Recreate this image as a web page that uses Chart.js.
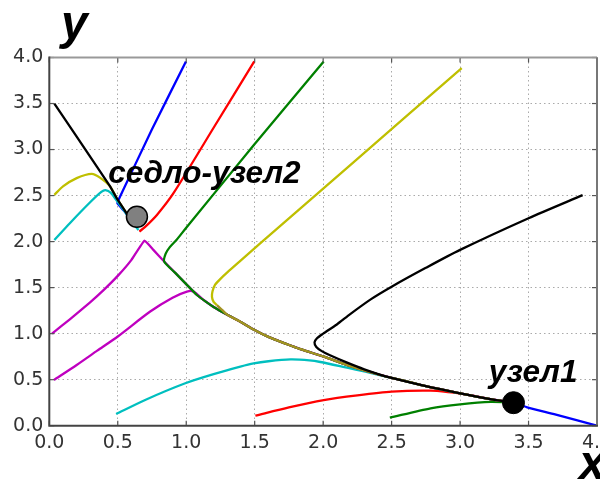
<!DOCTYPE html>
<html>
<head>
<meta charset="utf-8">
<script src="https://cdn.jsdelivr.net/npm/chart.js@4/dist/chart.umd.min.js"></script>
<style>
html,body{margin:0;padding:0;background:#fff;overflow:hidden;}
#wrap{width:600px;height:486px;position:relative;overflow:hidden;}
canvas{display:block;}
</style>
</head>
<body>
<div id="wrap"><canvas id="c" width="609" height="486"></canvas></div>
<script>
// ---- data ----
const xTicks = [0, 0.5, 1, 1.5, 2, 2.5, 3, 3.5, 4];
const yTicks = [0, 0.5, 1, 1.5, 2, 2.5, 3, 3.5, 4];

// common slow manifold from the saddle-node towards node 1
const separatrix = [[0.695,2.01],[0.76,1.91],[0.839,1.783],[0.92,1.66],[1.005,1.53],[1.078,1.42],[1.14,1.35],[1.2,1.29],[1.3,1.205],[1.395,1.13],[1.492,1.045],[1.6,0.965],[1.737,0.885],[1.834,0.832],[2.004,0.75],[2.2,0.648],[2.419,0.551],[2.5,0.52],[2.75,0.43],[3.0,0.352],[3.2,0.295],[3.39,0.25]];

const blackRight   = [[3.895,2.505],[3.5,2.254],[3.0,1.91],[2.75,1.715],[2.5,1.51],[2.35,1.375],[2.2,1.215],[2.1,1.10],[2.0,1.0],[1.955,0.95],[1.937,0.905],[1.95,0.855],[1.99,0.81],[2.05,0.765],[2.175,0.685],[2.3,0.612],[2.419,0.553]];
const blackLeft    = [[0.037,3.5],[0.2,3.14],[0.444,2.6],[0.493,2.47],[0.554,2.33],[0.62,2.17]];
const yellowLeft   = [[0.037,2.508],[0.1,2.6],[0.2,2.69],[0.31,2.736],[0.37,2.695],[0.444,2.6],[0.493,2.47],[0.554,2.33],[0.62,2.17]];
const cyanUpper    = [[0.037,2.018],[0.15,2.2],[0.3,2.43],[0.38,2.54],[0.41,2.56],[0.45,2.53],[0.5,2.43],[0.554,2.32],[0.6,2.22],[0.651,2.127]];
const blueTop      = [[0.998,3.957],[0.75,3.22],[0.517,2.49],[0.497,2.417],[0.554,2.32],[0.62,2.17]];
const redTop       = [[1.497,3.957],[1.2,3.237],[0.907,2.526],[0.786,2.29],[0.70,2.16],[0.658,2.109]];
const greenTop     = [[2.004,3.957],[1.5,3.06],[1.0,2.15],[0.93,2.02],[0.88,1.94],[0.85,1.87],[0.839,1.783]];
const yellowTop    = [[3.012,3.885],[2.2,2.834],[1.54,1.98],[1.395,1.79],[1.3,1.665],[1.25,1.595],[1.21,1.53],[1.192,1.46],[1.188,1.40],[1.2,1.345],[1.224,1.31],[1.26,1.26]];
const magentaUpper = [[0.02,1.0],[0.15,1.156],[0.298,1.341],[0.4,1.479],[0.505,1.636],[0.6,1.802],[0.695,2.01]];
const magentaLower = [[0.034,0.497],[0.2,0.66],[0.35,0.815],[0.505,0.975],[0.737,1.24],[0.9,1.39],[1.005,1.457],[1.053,1.457],[1.127,1.366],[1.2,1.29]];
const cyanLower    = [[0.488,0.127],[0.7,0.28],[0.993,0.461],[1.2,0.56],[1.395,0.641],[1.492,0.676],[1.6,0.70],[1.761,0.72],[1.9,0.71],[1.98,0.692],[2.175,0.63],[2.3,0.59],[2.419,0.548]];
const redLower     = [[1.505,0.109],[1.75,0.2],[2.004,0.279],[2.25,0.33],[2.5,0.37],[2.785,0.38],[2.95,0.36],[3.0,0.352]];
const greenLower   = [[2.487,0.087],[2.785,0.189],[3.0,0.232],[3.224,0.258],[3.39,0.25]];
const blueRight    = [[4.0,0.0],[3.7,0.12],[3.49,0.2],[3.39,0.25]];

const saddleNode = [[0.64,2.27]];
const node1      = [[3.39,0.25]];
const saddleLabel = 'седло-узел2';
const nodeLabel   = 'узел1';
const labelPos = {saddle:[0.43,2.633], node:[3.21,0.471]};

// ---- helpers ----
const P = arr => arr.map(([x,y]) => ({x, y}));
const tail = (fromX) => separatrix.filter(p => p[0] > fromX);
const withSep = (arr) => arr.concat(tail(arr[arr.length-1][0]));

const C = {b:'#0000ff', g:'#008000', r:'#ff0000', c:'#00bfbf', m:'#bf00bf', y:'#bfbf00', k:'#000000'};
const LW = 2.3;
function line(data, color, order, extra) {
  return Object.assign({data: P(data), borderColor: color, backgroundColor: color, borderWidth: LW,
    showLine: true, pointRadius: 0, pointHoverRadius: 0, tension: 0.25, fill: false, order: order}, extra || {});
}
const yellowJoin = yellowTop.length - 2;

const datasets = [
  {data: P(saddleNode), pointRadius: 10.5, pointHoverRadius: 10.5, pointBackgroundColor: '#808080', pointBorderColor: '#000', pointBorderWidth: 1.5, showLine: false, order: 0},
  {data: P(node1), pointRadius: 11, pointHoverRadius: 11, pointBackgroundColor: '#000', pointBorderColor: '#000', pointBorderWidth: 1, showLine: false, order: 0},
  line(withSep(blackRight), C.k, 1),
  line(blackLeft, C.k, 2, {tension: 0}),
  line(cyanUpper, C.c, 3),
  line(withSep(yellowTop), C.y, 4, {segment: {borderColor: ctx => ctx.p0DataIndex >= yellowJoin ? '#a39322' : undefined}}),
  line(withSep(greenTop), C.g, 5),
  line(withSep(magentaUpper), C.m, 6, {tension: 0.1}),
  line(withSep(magentaLower), C.m, 7),
  line(withSep(cyanLower), C.c, 8),
  line(withSep(redLower), C.r, 9),
  line(greenLower, C.g, 10),
  line(blueRight, C.b, 11),
  line(redTop, C.r, 12),
  line(blueTop, C.b, 13, {tension: 0.1}),
  line(yellowLeft, C.y, 14)
];

const frameTicks = {
  id: 'frameTicks',
  afterDatasetsDraw(chart) {
    const {ctx, chartArea: a, scales: {x, y}} = chart;
    ctx.save();
    ctx.lineWidth = 1.2;
    ctx.strokeStyle = '#555';
    xTicks.forEach(v => {
      const px = x.getPixelForValue(v);
      ctx.beginPath(); ctx.moveTo(px, a.bottom); ctx.lineTo(px, a.bottom - 5); ctx.stroke();
      ctx.beginPath(); ctx.moveTo(px, a.top); ctx.lineTo(px, a.top + 5); ctx.stroke();
    });
    yTicks.forEach(v => {
      const py = y.getPixelForValue(v);
      ctx.beginPath(); ctx.moveTo(a.left, py); ctx.lineTo(a.left + 5, py); ctx.stroke();
      ctx.beginPath(); ctx.moveTo(a.right, py); ctx.lineTo(a.right - 5, py); ctx.stroke();
    });
    ctx.lineWidth = 2;
    ctx.strokeStyle = '#999';
    ctx.beginPath(); ctx.moveTo(a.left, a.top); ctx.lineTo(a.right, a.top); ctx.stroke();
    ctx.strokeStyle = '#777';
    ctx.beginPath(); ctx.moveTo(a.right, a.top); ctx.lineTo(a.right, a.bottom); ctx.stroke();
    ctx.strokeStyle = '#444';
    ctx.beginPath(); ctx.moveTo(a.left, a.top - 1); ctx.lineTo(a.left, a.bottom); ctx.lineTo(a.right + 1, a.bottom); ctx.stroke();
    ctx.restore();
  },
  afterDraw(chart) {
    const {ctx, scales: {x, y}} = chart;
    ctx.save();
    ctx.fillStyle = '#000';
    ctx.textBaseline = 'alphabetic';
    ctx.textAlign = 'left';
    ctx.font = 'italic bold 31.5px "Liberation Sans", Arial, sans-serif';
    ctx.fillText(saddleLabel, x.getPixelForValue(labelPos.saddle[0]), y.getPixelForValue(labelPos.saddle[1]));
    ctx.fillText(nodeLabel, x.getPixelForValue(labelPos.node[0]), y.getPixelForValue(labelPos.node[1]));
    ctx.font = 'italic bold 48px "Liberation Sans", Arial, sans-serif';
    ctx.fillText('y', 61, 38.5);
    ctx.fillText('x', 579, 479);
    ctx.restore();
  }
};

const tickFont = {family: '"DejaVu Sans", sans-serif', size: 19};
new Chart(document.getElementById('c'), {
  type: 'scatter',
  data: {datasets},
  options: {
    responsive: false,
    animation: false,
    events: [],
    layout: {padding: {top: 57.5, right: 0, left: 0, bottom: 0}},
    plugins: {legend: {display: false}, tooltip: {enabled: false}},
    scales: {
      x: {
        type: 'linear', min: 0, max: 4,
        afterBuildTicks: s => { s.ticks = xTicks.map(v => ({value: v})); },
        ticks: {callback: v => v.toFixed(1), font: tickFont, color: '#333', padding: 6, maxRotation: 0, autoSkip: false},
        grid: {color: 'rgba(100,100,100,0.55)', lineWidth: 1, drawTicks: false},
        border: {display: false, dash: [1.5, 3]},
        afterFit: s => { s.height = 60.3; s.paddingLeft = 0; s.paddingRight = 0; }
      },
      y: {
        type: 'linear', min: 0, max: 4,
        afterBuildTicks: s => { s.ticks = yTicks.map(v => ({value: v})); },
        ticks: {callback: v => v.toFixed(1), font: tickFont, color: '#333', padding: 6, autoSkip: false},
        grid: {color: 'rgba(100,100,100,0.55)', lineWidth: 1, drawTicks: false},
        border: {display: false, dash: [1.5, 3]},
        afterFit: s => { s.width = 49.3; s.paddingTop = 0; s.paddingBottom = 0; }
      }
    }
  },
  plugins: [frameTicks]
});
</script>
</body>
</html>
